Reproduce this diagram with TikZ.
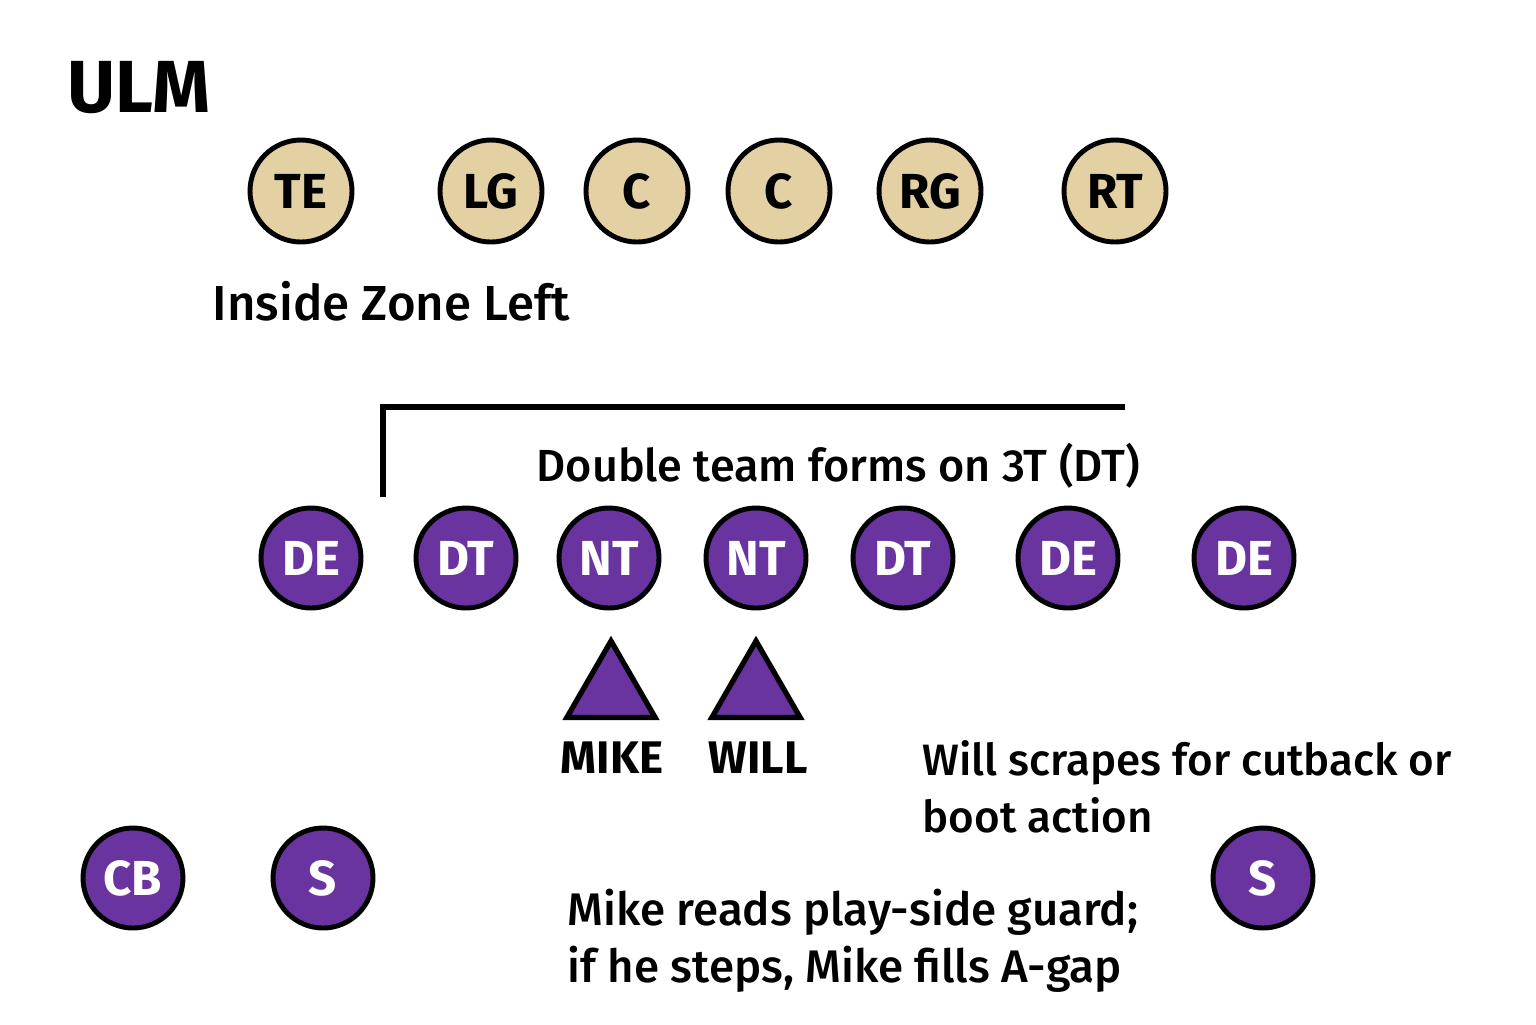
\documentclass[tikz,border=0pt]{standalone}
\usepackage{fontspec}
\setmainfont{Fira Sans Medium}[BoldFont={Fira Sans Bold}]
\usetikzlibrary{shapes.geometric}
\definecolor{tan}{HTML}{E3D0A3}
\definecolor{ulmpurple}{HTML}{6934A0}
\begin{document}
\begin{tikzpicture}[
    off/.style={circle, draw=black, line width=1.4pt, fill=tan, minimum size=1.02cm, inner sep=0pt,
      font=\fontsize{14}{16}\selectfont\bfseries},
    def/.style={circle, draw=black, line width=1.4pt, fill=ulmpurple, text=white, minimum size=1.0cm, inner sep=0pt,
      font=\fontsize{14}{16}\selectfont\bfseries},
    lb/.style={regular polygon, regular polygon sides=3, draw=black, line width=1.5pt, fill=ulmpurple,
      minimum size=1.02cm, inner sep=0pt},
    note/.style={font=\fontsize{12.8}{16.2}\selectfont, align=left, inner sep=0pt, anchor=west}
  ]
        \useasboundingbox (0, 0) rectangle (15.36, -10.24);
        \node[font=\fontsize{21}{24}\selectfont\bfseries] (title) at (1.39, -0.88) {ULM};
        % offense
        \node[off] (te) at (3.01, -1.91) {TE};
        \node[off] (lg) at (4.91, -1.91) {LG};
        \node[off] (c1) at (6.37, -1.91) {C};
        \node[off] (c2) at (7.79, -1.91) {C};
        \node[off] (rg) at (9.30, -1.91) {RG};
        \node[off] (rt) at (11.15, -1.91) {RT};
        \node[note, font=\fontsize{14}{16}\selectfont] (izl) at (2.12, -3.01) {Inside Zone Left};
        % bracket
        \coordinate (bl) at (3.83, -4.97);
        \coordinate (tl) at (3.83, -4.07);
        \coordinate (tr) at (11.25, -4.07);
        \draw[line width=1.6pt] (bl) -- (tl) -- (tr);
        \node[note] (dbl) at (5.36, -4.66) {Double team forms on 3T (DT)};
        % defense
        \node[def] (de1) at (3.11, -5.58) {DE};
        \node[def] (dt1) at (4.66, -5.58) {DT};
        \node[def] (nt1) at (6.09, -5.58) {NT};
        \node[def] (nt2) at (7.56, -5.58) {NT};
        \node[def] (dt2) at (9.03, -5.58) {DT};
        \node[def] (de2) at (10.68, -5.58) {DE};
        \node[def] (de3) at (12.44, -5.58) {DE};
        \node[lb] (mike) at (6.11, -6.92) {};
        \node[lb] (will) at (7.56, -6.92) {};
        \node[font=\fontsize{13}{16}\selectfont\bfseries] (mikel) at (6.12, -7.58) {MIKE};
        \node[font=\fontsize{13}{16}\selectfont\bfseries] (willl) at (7.58, -7.58) {WILL};
        \node[note, font=\fontsize{12.5}{16.2}\selectfont] (wnote) at (9.22, -7.87) {Will scrapes for cutback or\\boot action};
        % secondary
        \node[def] (cb) at (1.33, -8.78) {CB};
        \node[def] (s1) at (3.23, -8.78) {S};
        \node[def] (s2) at (12.63, -8.78) {S};
        \node[note, font=\fontsize{13}{16.2}\selectfont] (mnote) at (5.67, -9.41) {Mike reads play-side guard;\\if he steps, Mike fills A-gap};
    \end{tikzpicture}
\end{document}
